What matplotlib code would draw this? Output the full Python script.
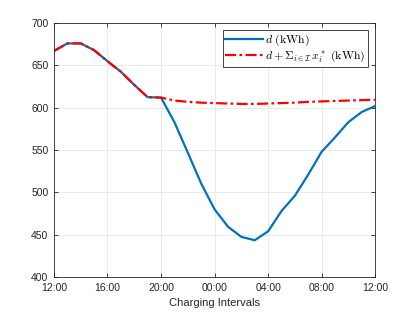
import numpy as np
import matplotlib
matplotlib.use("Agg")
import matplotlib.pyplot as plt

# datos horarios desde las 12:00 hasta las 12:00 del dia siguiente
horas = list(range(25))
demanda = [667, 676, 676, 668, 655, 642.5, 627, 612.5, 612,
           583, 547, 510.5, 480, 459.5, 447.5, 443.5, 454,
           478, 496, 521, 548, 565, 583, 595, 602]
demanda_total = [667, 676, 676, 668, 655, 642.5, 627, 612.5, 612,
                 608.5, 607, 606, 605.5, 605, 604.5, 604.5, 605,
                 605.5, 606, 607, 607.5, 608, 608.5, 609, 609.5]
ticks_x = [0, 4, 8, 12, 16, 20, 24]
etiquetas_x = ["12:00", "16:00", "20:00", "00:00", "04:00", "08:00", "12:00"]
ticks_y = [400, 450, 500, 550, 600, 650, 700]

plt.rcParams["font.family"] = ["Liberation Sans", "DejaVu Sans"]
plt.rcParams["mathtext.fontset"] = "cm"

fig = plt.figure(figsize=(4.15, 3.12), dpi=100)
ax = fig.add_axes([0.130, 0.112, 0.774, 0.814])

ax.plot(horas, demanda, color="#0072BD", lw=1.6, label=r"$d\ \mathrm{(kWh)}$")
ax.plot(horas, demanda_total, color="#FF0000", lw=1.6, ls=(0, (5, 1.5, 1.2, 1.5)),
        label=r"$d + \Sigma_{i\in\mathcal{I}}\, x_i^*\ \mathrm{(kWh)}$")

ax.set_xlim(0, 24)
ax.set_ylim(400, 700)
ax.set_xticks(ticks_x)
ax.set_xticklabels(etiquetas_x)
ax.set_yticks(ticks_y)
ax.grid(True, color="#e6e6e6", lw=0.6)
ax.set_axisbelow(True)
ax.tick_params(direction="in", top=True, right=True, labelsize=7.5,
               colors="#262626", length=3, width=0.6)
ax.tick_params(axis="x", pad=4)
ax.tick_params(axis="y", pad=4)
for s in ax.spines.values():
    s.set_color("#262626")
    s.set_linewidth(0.6)
ax.set_xlabel("Charging Intervals", fontsize=8, color="#262626", labelpad=4)

leg = ax.legend(loc="upper right", fontsize=8.5, frameon=True, fancybox=False,
                edgecolor="#262626", framealpha=1, borderaxespad=0.6,
                handlelength=3.2, handletextpad=0.2, borderpad=0.2, labelspacing=0.1)
leg.get_frame().set_linewidth(0.6)

plt.savefig("out.png", dpi=100)
